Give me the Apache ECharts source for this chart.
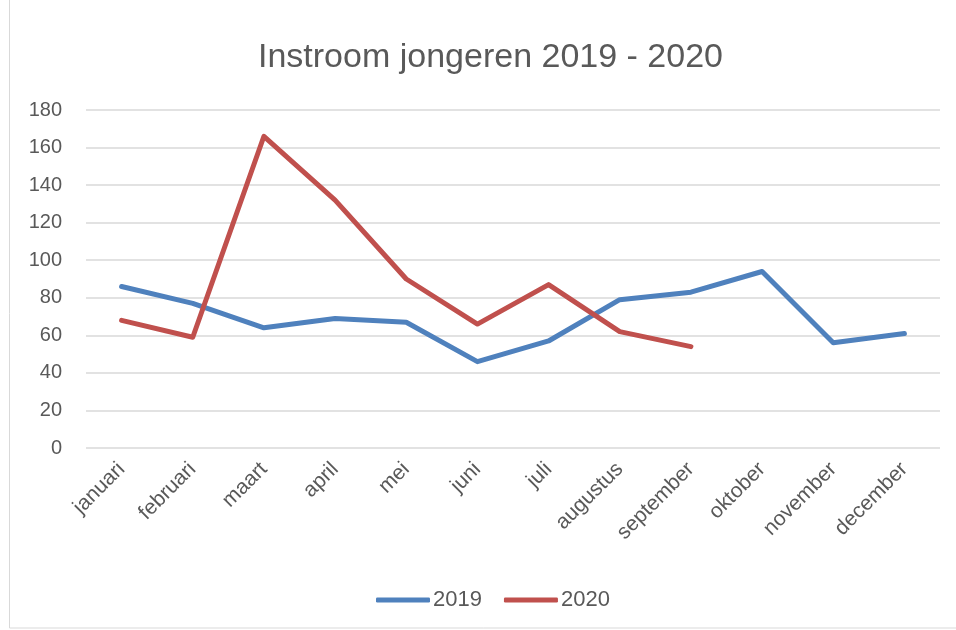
<!DOCTYPE html>
<html>
<head>
<meta charset="utf-8">
<script src="https://cdn.jsdelivr.net/npm/echarts@6/dist/echarts.min.js"></script>
<style>
    html, body { margin: 0; padding: 0; background: #fff; }
    #main { width: 956px; height: 630px; }
</style>
</head>
<body>
<div id="main"></div>
<script>
    var months = ['januari', 'februari', 'maart', 'april', 'mei', 'juni', 'juli', 'augustus', 'september', 'oktober', 'november', 'december'];
    var data2019 = [86, 77, 64, 69, 67, 46, 57, 79, 83, 94, 56, 61];
    var data2020 = [68, 59, 166, 132, 90, 66, 87, 62, 54];

    var font = 'Liberation Sans, Arial, sans-serif';
    var chart = echarts.init(document.getElementById('main'));
    var option = {
        animation: false,
        title: {
            text: 'Instroom jongeren 2019 - 2020',
            left: 253,
            top: 36,
            textStyle: { fontFamily: font, fontSize: 34, fontWeight: 'normal', color: '#595959' }
        },
        graphic: [{
            type: 'rect',
            shape: { x: 9.5, y: -2, width: 960, height: 630 },
            style: { fill: 'none', stroke: '#d9d9d9', lineWidth: 1 },
            silent: true
        }],
        grid: { left: 86, right: 16, top: 110, bottom: 182 },
        legend: {
            bottom: 14,
            left: 371,
            itemWidth: 54,
            itemHeight: 5,
            itemGap: 22,
            icon: 'roundRect',
            textStyle: { fontFamily: font, fontSize: 22, color: '#595959', padding: [0, 0, 0, -2] },
            data: ['2019', '2020']
        },
        xAxis: {
            type: 'category',
            data: months,
            axisLine: { show: false },
            axisTick: { show: false },
            axisLabel: { rotate: 45, fontFamily: font, fontSize: 21, color: '#595959', margin: 18, interval: 0 }
        },
        yAxis: {
            type: 'value',
            min: 0,
            max: 180,
            interval: 20,
            axisLine: { show: false },
            axisTick: { show: false },
            axisLabel: { fontFamily: font, fontSize: 20, color: '#595959', margin: 24 },
            splitLine: { lineStyle: { color: '#d9d9d9', width: 1.5 } }
        },
        series: [{
            name: '2019',
            type: 'line',
            data: data2019,
            symbol: 'none',
            lineStyle: { color: '#4f81bd', width: 5, cap: 'round', join: 'round' },
            itemStyle: { color: '#4f81bd' }
        }, {
            name: '2020',
            type: 'line',
            data: data2020,
            symbol: 'none',
            lineStyle: { color: '#c0504d', width: 5, cap: 'round', join: 'round' },
            itemStyle: { color: '#c0504d' }
        }]
    };
    chart.setOption(option);
</script>
</body>
</html>
